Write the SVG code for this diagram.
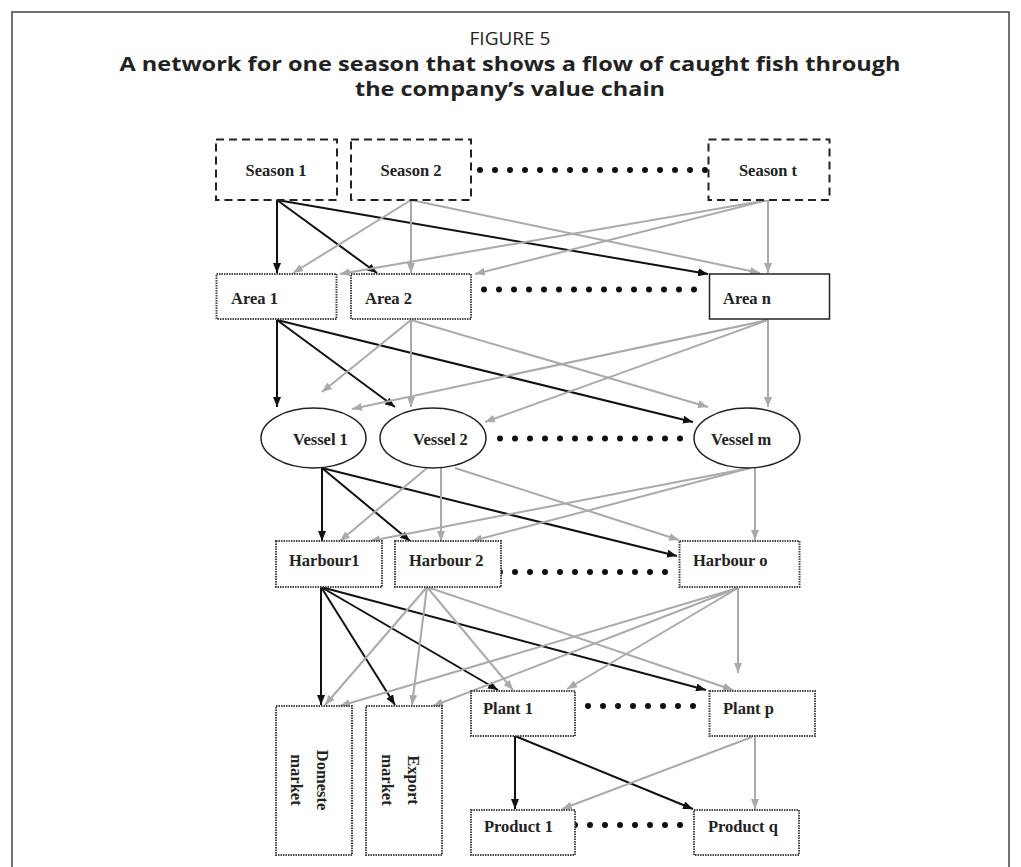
<svg xmlns="http://www.w3.org/2000/svg" width="1021" height="867" viewBox="0 0 1021 867">
<style>
.title{font-family:"Open Sans","Liberation Sans",sans-serif;fill:#222;text-anchor:middle}
.lbl{font-family:"Liberation Serif","Times New Roman",serif;font-weight:bold;font-size:16.5px;fill:#222}
.dash{fill:#fff;stroke:#222;stroke-width:2;stroke-dasharray:8 5}
.dot{fill:#fff;stroke:#444;stroke-width:2;stroke-dasharray:1.5 1}
.solid{fill:#fff;stroke:#222;stroke-width:1.5}
.blk{stroke:#111;stroke-width:2;fill:none;marker-end:url(#ab)}
.gry{stroke:#aaa;stroke-width:2;fill:none;marker-end:url(#ag)}
.dots{stroke:#111;stroke-width:6;stroke-linecap:round;stroke-dasharray:0 15;fill:none}
</style>
<defs>
<marker id="ab" viewBox="0 0 10 8" refX="10" refY="4" markerWidth="10" markerHeight="8" markerUnits="userSpaceOnUse" orient="auto"><path d="M0,0 L10,4 L0,8 z" fill="#111"/></marker>
<marker id="ag" viewBox="0 0 10 8" refX="10" refY="4" markerWidth="10" markerHeight="8" markerUnits="userSpaceOnUse" orient="auto"><path d="M0,0 L10,4 L0,8 z" fill="#aaa"/></marker>
</defs>
<rect x="0" y="0" width="1021" height="867" fill="#fff"/>
<rect x="12" y="12" width="997" height="900" fill="none" stroke="#444" stroke-width="1.5"/>
<g id="title">
<text class="title" x="510" y="45" font-size="19">FIGURE 5</text>
<text class="title" x="510" y="71" font-size="20" font-weight="bold" textLength="781" lengthAdjust="spacingAndGlyphs">A network for one season that shows a flow of caught fish through</text>
<text class="title" x="510" y="96" font-size="20" font-weight="bold" textLength="310" lengthAdjust="spacingAndGlyphs">the company’s value chain</text>
</g>
<g id="connectors">
<line class="blk" x1="277" y1="200" x2="277" y2="273"/>
<line class="blk" x1="277" y1="200" x2="377" y2="273"/>
<line class="blk" x1="277" y1="200" x2="708" y2="274"/>
<line class="gry" x1="411" y1="200" x2="293" y2="273"/>
<line class="gry" x1="411" y1="200" x2="411" y2="273"/>
<line class="gry" x1="411" y1="200" x2="760" y2="273"/>
<line class="gry" x1="768" y1="200" x2="340" y2="274"/>
<line class="gry" x1="768" y1="200" x2="475" y2="274"/>
<line class="gry" x1="768" y1="200" x2="768" y2="273"/>
<line class="blk" x1="277" y1="320" x2="277" y2="407"/>
<line class="blk" x1="277" y1="320" x2="395" y2="407"/>
<line class="blk" x1="277" y1="320" x2="693" y2="422"/>
<line class="gry" x1="411" y1="320" x2="322" y2="392"/>
<line class="gry" x1="411" y1="320" x2="411" y2="407"/>
<line class="gry" x1="411" y1="320" x2="708" y2="407"/>
<line class="gry" x1="768" y1="320" x2="352" y2="409"/>
<line class="gry" x1="768" y1="320" x2="485" y2="422"/>
<line class="gry" x1="768" y1="320" x2="768" y2="407"/>
<line class="blk" x1="322" y1="468" x2="322" y2="541"/>
<line class="blk" x1="322" y1="468" x2="410" y2="541"/>
<line class="blk" x1="322" y1="468" x2="677" y2="556"/>
<line class="gry" x1="427" y1="468" x2="340" y2="541"/>
<line class="gry" x1="441" y1="468" x2="441" y2="541"/>
<line class="gry" x1="455" y1="468" x2="679" y2="540"/>
<line class="gry" x1="750" y1="468" x2="370" y2="541"/>
<line class="gry" x1="750" y1="468" x2="472" y2="541"/>
<line class="gry" x1="755" y1="468" x2="755" y2="540"/>
<line class="blk" x1="321" y1="587" x2="321" y2="705"/>
<line class="blk" x1="321" y1="587" x2="395" y2="705"/>
<line class="blk" x1="321" y1="587" x2="498" y2="690"/>
<line class="blk" x1="321" y1="587" x2="706" y2="690"/>
<line class="gry" x1="427" y1="587" x2="325" y2="705"/>
<line class="gry" x1="427" y1="587" x2="412" y2="705"/>
<line class="gry" x1="427" y1="587" x2="513" y2="690"/>
<line class="gry" x1="427" y1="587" x2="733" y2="690"/>
<line class="gry" x1="738" y1="588" x2="738" y2="673"/>
<line class="gry" x1="738" y1="588" x2="340" y2="706"/>
<line class="gry" x1="738" y1="588" x2="433" y2="706"/>
<line class="gry" x1="738" y1="588" x2="567" y2="689"/>
<line class="blk" x1="515" y1="736" x2="515" y2="809"/>
<line class="blk" x1="515" y1="736" x2="693" y2="809"/>
<line class="gry" x1="755" y1="737" x2="755" y2="809"/>
<line class="gry" x1="752" y1="737" x2="562" y2="809"/>
</g>
<g id="ellipsis">
<line class="dots" x1="480" y1="170" x2="706" y2="170"/>
<line class="dots" x1="484" y1="289.5" x2="695" y2="289.5"/>
<line class="dots" x1="500" y1="438.5" x2="681" y2="438.5"/>
<line class="dots" x1="485" y1="572" x2="666" y2="572"/>
<line class="dots" x1="588" y1="706" x2="694" y2="706"/>
<line class="dots" x1="575" y1="825" x2="681" y2="825"/>
</g>
<g id="season1"><rect class="dash" x="216" y="139.5" width="121" height="60.5"/><text class="lbl" x="276" y="176" text-anchor="middle">Season 1</text></g>
<g id="season2"><rect class="dash" x="351" y="139.5" width="120" height="60.5"/><text class="lbl" x="411" y="176" text-anchor="middle">Season 2</text></g>
<g id="seasont"><rect class="dash" x="708.5" y="139.5" width="121" height="60.5"/><text class="lbl" x="768" y="176" text-anchor="middle">Season t</text></g>
<g id="area1"><rect class="dot" x="216.5" y="274" width="120" height="45"/><text class="lbl" x="231" y="304">Area 1</text></g>
<g id="area2"><rect class="dot" x="351" y="274" width="120" height="45"/><text class="lbl" x="365" y="304">Area 2</text></g>
<g id="arean"><rect class="solid" x="709.5" y="274" width="120" height="45"/><text class="lbl" x="723" y="304">Area n</text></g>
<g id="vessel1"><ellipse class="solid" cx="313.5" cy="438" rx="52.5" ry="30"/><text class="lbl" x="293" y="445">Vessel 1</text></g>
<g id="vessel2"><ellipse class="solid" cx="433" cy="438" rx="53" ry="30"/><text class="lbl" x="413" y="445">Vessel 2</text></g>
<g id="vesselm"><ellipse class="solid" cx="747" cy="438" rx="53" ry="30"/><text class="lbl" x="711" y="445">Vessel m</text></g>
<g id="harbour1"><rect class="dot" x="276" y="541" width="106" height="46"/><text class="lbl" x="289" y="566">Harbour1</text></g>
<g id="harbour2"><rect class="dot" x="395" y="541" width="106" height="46"/><text class="lbl" x="409" y="566">Harbour 2</text></g>
<g id="harbouro"><rect class="dot" x="679.5" y="541" width="120" height="46"/><text class="lbl" x="693" y="566">Harbour o</text></g>
<g id="domestic"><rect class="dot" x="276" y="706" width="76" height="149"/><text class="lbl" transform="translate(314,780) rotate(90)" text-anchor="middle"><tspan x="0" y="-3">Domeste</tspan><tspan x="0" y="23">market</tspan></text></g>
<g id="export"><rect class="dot" x="366" y="706" width="76" height="149"/><text class="lbl" transform="translate(404,780) rotate(90)" text-anchor="middle"><tspan x="0" y="-4">Export</tspan><tspan x="0" y="22">market</tspan></text></g>
<g id="plant1"><rect class="dot" x="471" y="691" width="104" height="45"/><text class="lbl" x="483" y="714">Plant 1</text></g>
<g id="plantp"><rect class="dot" x="709.5" y="691" width="105.5" height="45"/><text class="lbl" x="723" y="714">Plant p</text></g>
<g id="product1"><rect class="dot" x="471" y="810" width="104" height="45"/><text class="lbl" x="484" y="832">Product 1</text></g>
<g id="productq"><rect class="dot" x="694" y="810" width="105" height="45"/><text class="lbl" x="708" y="832">Product q</text></g>
</svg>
